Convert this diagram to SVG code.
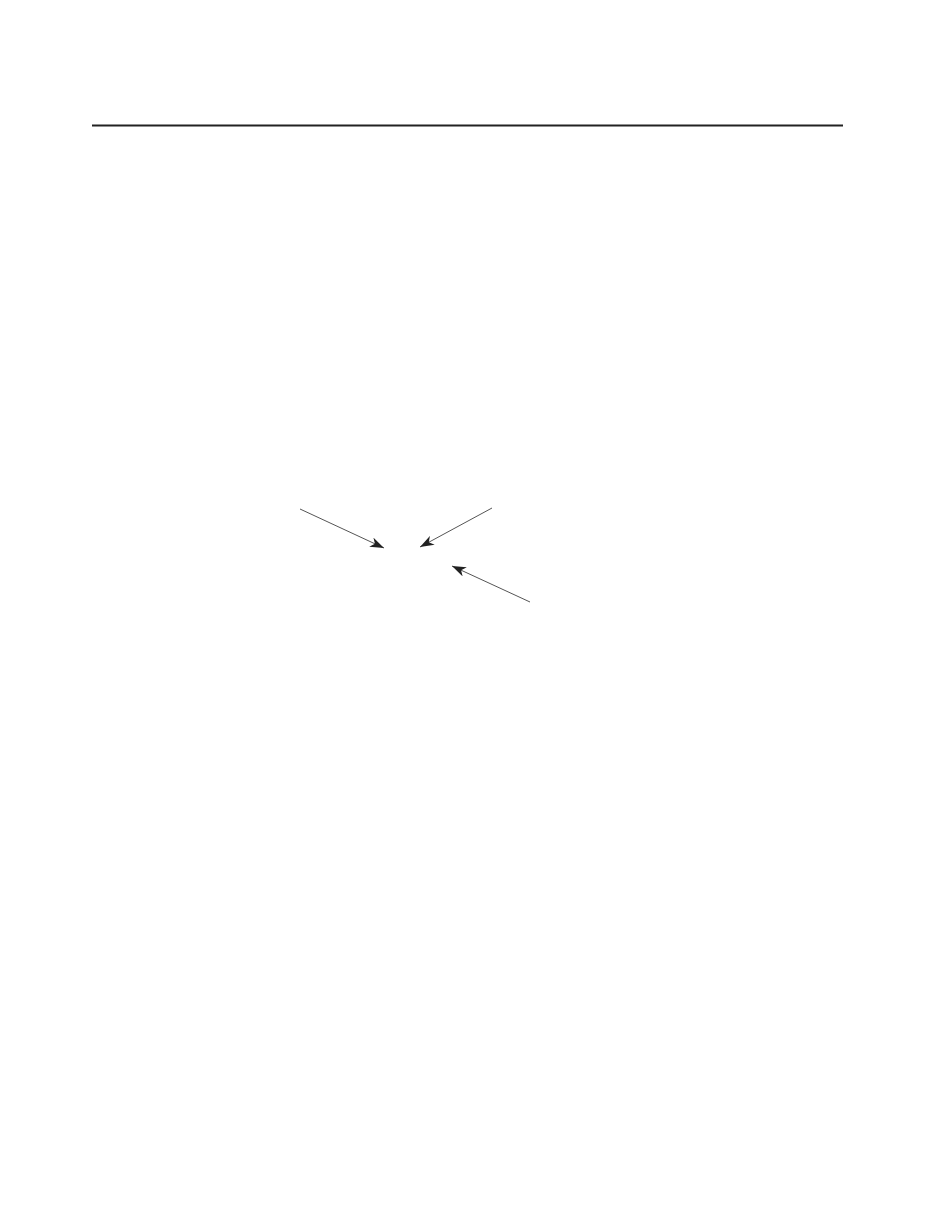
<svg xmlns="http://www.w3.org/2000/svg" width="935" height="1210" viewBox="0 0 935 1210">
<style>
.conn{stroke:#555;stroke-width:1;fill:none;marker-end:url(#ah)}
.rule{stroke:#222;stroke-width:2}
</style>
<defs>
<marker id="ah" viewBox="0 0 14 10" refX="14" refY="5" markerWidth="14" markerHeight="10" markerUnits="userSpaceOnUse" orient="auto">
<path d="M0,0 L14,5 L0,10 L4,5 Z" fill="#222"/>
</marker>
</defs>
<rect width="935" height="1210" fill="#fff"/>
<g id="rule"><line class="rule" x1="92" y1="125.5" x2="843" y2="125.5"/></g>
<g id="connectors">
<line class="conn" x1="300" y1="509" x2="384" y2="548"/>
<line class="conn" x1="492" y1="508" x2="420" y2="547"/>
<line class="conn" x1="530" y1="602" x2="452" y2="566"/>
</g>
</svg>
